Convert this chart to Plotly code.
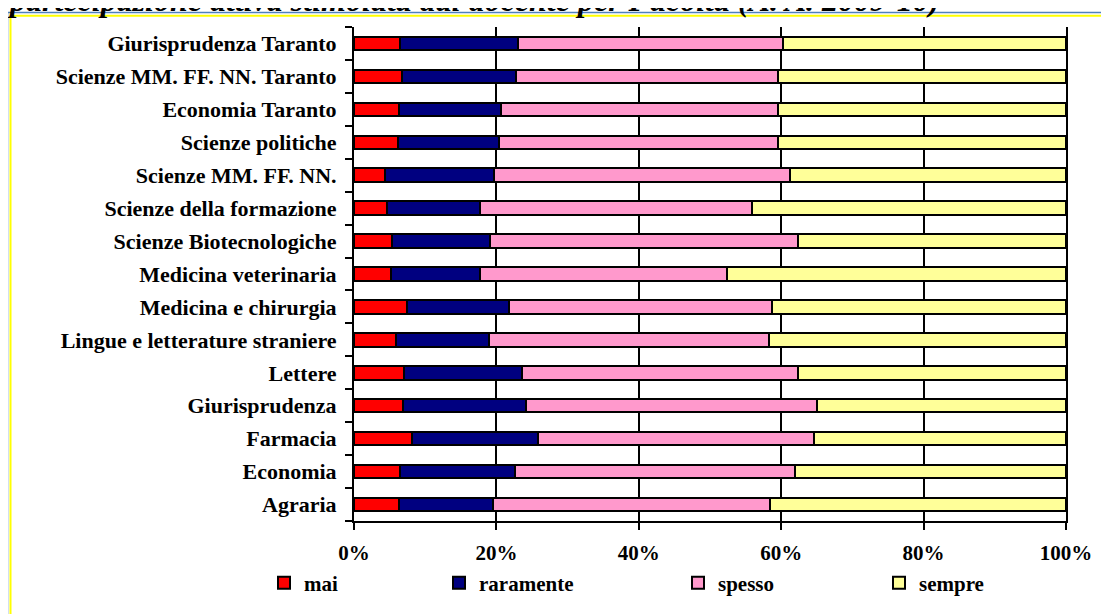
"""Partecipazione attiva stimolata dal docente per Facoltà – barre 100% in pila."""

import plotly.graph_objects as go

# facoltà, dal basso verso l'alto (ordine dell'asse categorie)
facolta = [
    "Agraria",
    "Economia",
    "Farmacia",
    "Giurisprudenza",
    "Lettere",
    "Lingue e letterature straniere",
    "Medicina e chirurgia",
    "Medicina veterinaria",
    "Scienze Biotecnologiche",
    "Scienze della formazione",
    "Scienze MM. FF. NN.",
    "Scienze politiche",
    "Economia Taranto",
    "Scienze MM. FF. NN. Taranto",
    "Giurisprudenza Taranto",
]

# percentuali
mai = [6.3, 6.5, 8.2, 6.9, 7.0, 5.9, 7.5, 5.2, 5.4, 4.6, 4.4, 6.2, 6.3, 6.8, 6.5]
raramente = [13.2, 16.1, 17.6, 17.2, 16.6, 13.1, 14.2, 12.5, 13.7, 13.1, 15.3, 14.2, 14.3, 15.9, 16.5]
spesso = [38.9, 39.3, 38.8, 40.9, 38.8, 39.3, 37.0, 34.7, 43.3, 38.2, 41.5, 39.1, 38.9, 36.9, 37.3]
sempre = [41.6, 38.1, 35.4, 35.0, 37.6, 41.7, 41.3, 47.6, 37.6, 44.1, 38.8, 40.5, 40.5, 40.4, 39.7]

tick_vals = [0, 20, 40, 60, 80, 100]
tick_text = ["0%", "20%", "40%", "60%", "80%", "100%"]

SERIF = "Liberation Serif"
OFF = 8  # margine del body della pagina
W, H = 1109 - OFF, 614 - OFF
# bordi dell'area del grafico, in pixel della finestra
X0, X1, Y0, Y1 = 354, 1066, 27, 521
L, R, T, B = X0 - OFF, W - (X1 - OFF), Y0 - OFF, H - (Y1 - OFF)
PW, PH = X1 - X0, Y1 - Y0


def px_x(px):
    return (px - X0) / PW


def px_y(py):
    return (Y1 - py) / PH


series = [
    ("mai", mai, "#FF0000", "legend", 278),
    ("raramente", raramente, "#000080", "legend2", 453),
    ("spesso", spesso, "#FF99CC", "legend3", 692),
    ("sempre", sempre, "#FFFF99", "legend4", 893),
]

fig = go.Figure()
legends = {}
for name, vals, color, leg, sq_x in series:
    fig.add_trace(
        go.Bar(
            y=facolta,
            x=vals,
            name=f"<b>{name}</b>",
            orientation="h",
            legend=leg,
            marker=dict(color=color, line=dict(color="black", width=2)),
        )
    )
    legends[leg] = dict(
        x=px_x(sq_x - 14),
        xanchor="left",
        y=px_y(583),
        yanchor="middle",
        orientation="h",
        bgcolor="rgba(0,0,0,0)",
        font=dict(family=SERIF, size=21, color="black", weight="bold"),
    )

fig.update_layout(
    width=W,
    height=H,
    barmode="stack",
    bargap=0.59,
    margin=dict(l=L, r=R, t=T, b=B, autoexpand=False),
    paper_bgcolor="white",
    plot_bgcolor="white",
    showlegend=True,
    **legends,
)

fig.update_xaxes(
    range=[0, 100],
    tickvals=tick_vals,
    ticktext=tick_text,
    showgrid=True,
    gridcolor="black",
    gridwidth=2,
    zeroline=False,
    showline=True,
    linecolor="black",
    linewidth=2,
    ticks="outside",
    ticklen=7,
    tickwidth=2,
    tickcolor="black",
    ticklabelstandoff=5,
    tickfont=dict(family=SERIF, size=21, color="black", weight="bold"),
)
fig.update_yaxes(
    type="category",
    showgrid=False,
    showline=True,
    mirror=True,
    linecolor="black",
    linewidth=2,
    ticks="outside",
    tickson="boundaries",
    ticklen=7,
    tickwidth=2,
    tickcolor="black",
    ticklabelstandoff=11,
    tickfont=dict(family=SERIF, size=22, color="black", weight="bold"),
)

# cornice del riquadro (blu esterna, gialla interna), tagliata a destra e in basso
fig.add_shape(
    type="rect", xref="paper", yref="paper",
    x0=px_x(7.5), x1=px_x(1140), y0=px_y(650), y1=px_y(12.5),
    line=dict(color="#4F81BD", width=1.5), layer="below",
)
fig.add_shape(
    type="rect", xref="paper", yref="paper",
    x0=px_x(10.5), x1=px_x(1137), y0=px_y(647), y1=px_y(15.8),
    line=dict(color="#FFFF00", width=2), layer="below",
)

# titolo, in parte fuori dall'immagine come nell'originale
fig.add_annotation(
    text="partecipazione attiva stimolata dal docente per Facoltà (A. A. 2009-10)",
    xref="paper", yref="paper",
    x=px_x(5), xanchor="left",
    y=px_y(0), yanchor="middle",
    showarrow=False,
    font=dict(family=SERIF, size=32, color="black", weight="bold", style="italic"),
)

fig.write_html("out.html")
